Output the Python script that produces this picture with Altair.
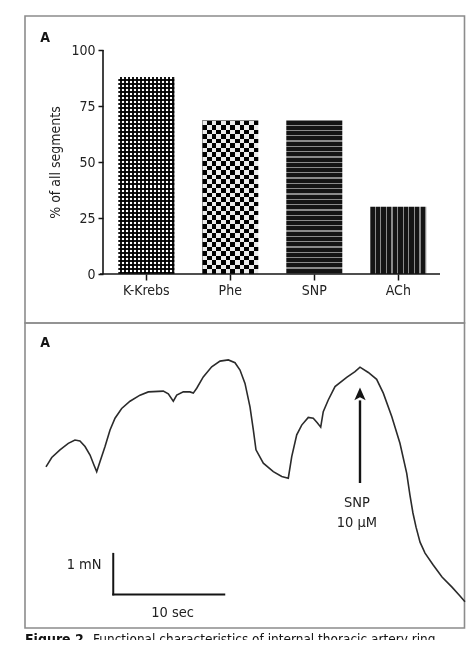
import altair as alt
import pandas as pd

# ---------------- data ----------------
categories = ["K-Krebs", "Phe", "SNP", "ACh"]
percent = [88, 68.5, 68.5, 30]
y_ticks = [0, 25, 50, 75, 100]

# force trace: time (sec) and tension (mN)
trace_t = [1.89, 2.41, 3.15, 3.90, 4.50, 4.95, 5.41, 5.86, 6.22, 6.46, 6.76, 7.21, 7.66, 8.11,
           8.71, 9.46, 10.36, 11.11, 12.46, 12.91, 13.36, 13.67, 14.26, 14.86, 15.16, 15.47,
           16.06, 16.82, 17.57, 18.32, 18.92, 19.37, 19.82, 20.27, 20.57, 20.81, 21.47, 22.37,
           23.13, 23.72, 24.03, 24.48, 24.93, 25.52, 25.97, 26.33, 26.64, 26.87, 27.32, 27.93,
           28.98, 29.73, 30.18, 30.93, 31.68, 32.28, 33.04, 33.78, 34.39, 34.68, 34.95, 35.23,
           35.59, 36.04, 36.76, 37.57, 38.47, 39.19, 39.64]
trace_f = [3.98, 4.21, 4.40, 4.56, 4.64, 4.62, 4.48, 4.27, 4.02, 3.86, 4.11, 4.48, 4.89, 5.18,
           5.42, 5.60, 5.75, 5.83, 5.85, 5.78, 5.60, 5.75, 5.83, 5.83, 5.80, 5.92,
           6.20, 6.45, 6.59, 6.62, 6.55, 6.37, 6.04, 5.46, 4.89, 4.40, 4.07, 3.86,
           3.74, 3.70, 4.23, 4.77, 5.01, 5.20, 5.18, 5.07, 4.96, 5.34, 5.63, 5.96,
           6.19, 6.33, 6.44, 6.31, 6.14, 5.80, 5.22, 4.56, 3.82, 3.28, 2.84, 2.49,
           2.12, 1.85, 1.56, 1.26, 1.01, 0.79, 0.65]

# calibration bars
scale_t0, scale_f0 = 7.95, 0.83
scale_sec, scale_mN = 10, 1

# SNP application arrow
arrow_t = 30.18
arrow_f_from, arrow_f_to, arrow_head_f = 3.58, 5.62, 5.74

annot_labels = ["1 mN", "10 sec", "SNP", "10 μM"]
annot_t = [6.9, 13.3, 29.9, 29.9]
annot_f = [1.56, 0.38, 3.09, 2.59]
annot_align = ["right", "center", "center", "center"]

caption_bold = "Figure 2."
caption_text = "Functional characteristics of internal thoracic artery ring"

# ---------------- styling ----------------
W, H = 458, 632
FONT = "DejaVu Sans Condensed, DejaVu Sans, sans-serif"
BLACK = "#141414"
GRAY = "#8a8a8a"
BORDER = "#8c8c8c"


def bands(count, c1, c2, frac=0.5, horizontal=False):
    stops = []
    for k in range(count):
        a = k / count
        m = (k + frac) / count
        b = (k + 1) / count
        stops += [alt.GradientStop(offset=a, color=c1), alt.GradientStop(offset=m, color=c1),
                  alt.GradientStop(offset=m, color=c2), alt.GradientStop(offset=b, color=c2)]
    if horizontal:
        return alt.LinearGradient(gradient="linear", stops=stops, x1=0, x2=0, y1=0, y2=1)
    return alt.LinearGradient(gradient="linear", stops=stops, x1=0, x2=1, y1=0, y2=0)


# ---------------- bar panel ----------------
bar_df = pd.DataFrame({"cat": categories, "pct": percent})
xenc = alt.X("cat:N", sort=categories, title=None,
             scale=alt.Scale(paddingInner=1 / 3, paddingOuter=0.89286, align=0.7353),
             axis=alt.Axis(orient="bottom", offset=-366, domain=False, grid=False,
                           tickSize=6, tickWidth=1.5, tickColor=BLACK, labelPadding=3,
                           labelFont=FONT, labelFontSize=14, labelColor="#222", labelAngle=0))
yenc = alt.Y("pct:Q", title="% of all segments",
             scale=alt.Scale(domain=[-163.39, 118.75], nice=False, zero=False),
             axis=alt.Axis(orient="left", offset=-95, domain=False, grid=False, values=y_ticks,
                           tickSize=5, tickWidth=1.5, tickColor=BLACK, labelPadding=3,
                           labelFont=FONT, labelFontSize=14, labelColor="#222",
                           titleFont=FONT, titleFontSize=14, titleFontWeight="normal",
                           titleColor="#222", titleAngle=270, titleAlign="center",
                           titleBaseline="middle", titleX=-48, titleY=154))
base = alt.Chart(bar_df).encode(x=xenc, y=yenc, y2=alt.datum(0))


def pick(c):
    return alt.datum.cat == c


krebs_a = base.mark_bar(fill=bands(14, "#ffffff", BLACK)).transform_filter(pick("K-Krebs"))
krebs_b = base.mark_bar(fill=bands(49, "#ffffff", BLACK, horizontal=True),
                        blend="multiply").transform_filter(pick("K-Krebs"))
phe_a = base.mark_bar(fill=bands(6, BLACK, "#ffffff")).transform_filter(pick("Phe"))
phe_b = base.mark_bar(fill=bands(17, "#ffffff", BLACK, horizontal=True),
                      blend="difference").transform_filter(pick("Phe"))
snp = base.mark_bar(fill=bands(29, BLACK, GRAY, frac=0.76, horizontal=True)).transform_filter(pick("SNP"))
ach = base.mark_bar(fill=bands(10, BLACK, GRAY, frac=0.77)).transform_filter(pick("ACh"))

one = pd.DataFrame({"k": [0]})
x_axis_line = alt.Chart(one).mark_rule(color=BLACK, strokeWidth=1.6).encode(
    y=alt.datum(0), x=alt.value(92), x2=alt.value(432))
y_axis_line = alt.Chart(one).mark_rule(color=BLACK, strokeWidth=1.6).encode(
    x=alt.value(95), y=alt.datum(0), y2=alt.datum(100))

bar_panel = alt.layer(krebs_a, krebs_b, phe_a, phe_b, snp, ach, x_axis_line, y_axis_line)

# ---------------- trace panel ----------------
tx_scale = alt.Scale(domain=[-1.5315, 39.73], nice=False, zero=False)
ty_scale = alt.Scale(domain=[-0.2963, 15.309], nice=False, zero=False)

trace_df = pd.DataFrame({"t": trace_t, "f": trace_f, "i": list(range(len(trace_t)))})
trace = alt.Chart(trace_df).mark_line(color="#2b2b2b", strokeWidth=1.6).encode(
    x=alt.X("t:Q", scale=tx_scale, axis=None),
    y=alt.Y("f:Q", scale=ty_scale, axis=None),
    order="i:O")

cal_df = pd.DataFrame({
    "t": [scale_t0, scale_t0],
    "t2": [scale_t0, scale_t0 + scale_sec],
    "f": [scale_f0, scale_f0],
    "f2": [scale_f0 + scale_mN, scale_f0],
})
cal = alt.Chart(cal_df).mark_rule(color=BLACK, strokeWidth=2, strokeCap="square").encode(
    x=alt.X("t:Q", scale=tx_scale, axis=None), x2="t2:Q",
    y=alt.Y("f:Q", scale=ty_scale, axis=None), y2="f2:Q")

arrow_df = pd.DataFrame({"t": [arrow_t], "f": [arrow_f_from], "f2": [arrow_f_to], "fh": [arrow_head_f]})
shaft = alt.Chart(arrow_df).mark_rule(color=BLACK, strokeWidth=2.4).encode(
    x=alt.X("t:Q", scale=tx_scale, axis=None),
    y=alt.Y("f:Q", scale=ty_scale, axis=None), y2="f2:Q")
head = alt.Chart(arrow_df).mark_point(
    shape="M0,-1L0.7,0.6L0,0.2L-0.7,0.6Z", filled=True, color=BLACK, opacity=1, size=260
).encode(x=alt.X("t:Q", scale=tx_scale, axis=None),
         y=alt.Y("fh:Q", scale=ty_scale, axis=None))

annot_df = pd.DataFrame({"label": annot_labels, "t": annot_t, "f": annot_f, "al": annot_align})
annots = []
for al in ["right", "center"]:
    annots.append(
        alt.Chart(annot_df).transform_filter(alt.datum.al == al).mark_text(
            font=FONT, fontSize=14.5, color="#222", align=al, baseline="middle").encode(
            x=alt.X("t:Q", scale=tx_scale, axis=None),
            y=alt.Y("f:Q", scale=ty_scale, axis=None),
            text="label:N"))

trace_panel = alt.layer(trace, cal, shaft, head, *annots)

# ---------------- frame, panel letters, caption ----------------
frames = [
    alt.Chart(one).mark_rect(fill="transparent", stroke=BORDER, strokeWidth=1.6).encode(
        x=alt.value(17), x2=alt.value(456.5), y=alt.value(8), y2=alt.value(315)),
    alt.Chart(one).mark_rect(fill="transparent", stroke=BORDER, strokeWidth=1.6).encode(
        x=alt.value(17), x2=alt.value(456.5), y=alt.value(315), y2=alt.value(620)),
]
letters = [
    alt.Chart(one).mark_text(text="A", font=FONT, fontSize=14, fontWeight="bold", color=BLACK,
                             align="center", baseline="middle").encode(x=alt.value(37), y=alt.value(30)),
    alt.Chart(one).mark_text(text="A", font=FONT, fontSize=14, fontWeight="bold", color=BLACK,
                             align="center", baseline="middle").encode(x=alt.value(37), y=alt.value(335)),
]
caption = [
    alt.Chart(one).mark_text(text=caption_bold, font=FONT, fontSize=14, fontWeight="bold",
                             color=BLACK, align="left", baseline="alphabetic").encode(
        x=alt.value(17), y=alt.value(636)),
    alt.Chart(one).mark_text(text=caption_text, font=FONT, fontSize=13.5, color=BLACK,
                             align="left", baseline="alphabetic").encode(
        x=alt.value(85), y=alt.value(636)),
]

chart = alt.layer(
    *frames, bar_panel, trace_panel, *letters, *caption
).resolve_scale(
    x="independent", y="independent"
).properties(
    width=W, height=H, padding=0,
    autosize=alt.AutoSizeParams(type="none"),
    background="white",
).configure_view(stroke="transparent")

chart.save("out.html", embed_options={"renderer": "svg", "actions": False})
